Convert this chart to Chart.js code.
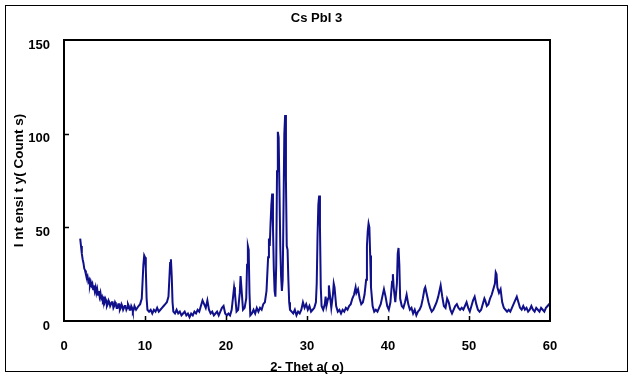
<!DOCTYPE html>
<html>
<head>
<meta charset="utf-8">
<title>CsPbI 3</title>
<script src="https://cdn.jsdelivr.net/npm/chart.js@4.4.0/dist/chart.umd.min.js"></script>
<style>
    body { margin: 0; background: #fff; }
    #wrap { width: 633px; height: 378px; }
</style>
</head>
<body>
<div id="wrap"><canvas id="xrdChart" width="633" height="378"></canvas></div>
<script>
// XRD pattern readings, [2-theta, counts]
const lowAngle = [
    [2.0, 44], [2.1, 40], [2.2, 36], [2.3, 33], [2.4, 31], [2.5, 28], [2.6, 27], [2.7, 25], [2.8, 23], [2.9, 24],
    [3.0, 21], [3.1, 22], [3.2, 19], [3.3, 21], [3.4, 19], [3.5, 20], [3.6, 17], [3.7, 19], [3.8, 16], [3.9, 18],
    [4.0, 15], [4.1, 17], [4.2, 14], [4.3, 16], [4.4, 13], [4.5, 15], [4.6, 12], [4.7, 13], [4.8, 11], [4.9, 12],
    [5.0, 10], [5.1, 12], [5.2, 11], [5.3, 8], [5.4, 9], [5.5, 11], [5.6, 10], [5.7, 8], [5.8, 8], [5.9, 10],
    [6.0, 10], [6.1, 7], [6.2, 8], [6.3, 10], [6.4, 9], [6.5, 7], [6.6, 7], [6.7, 9], [6.8, 9], [6.9, 6],
    [7.0, 7], [7.1, 9], [7.2, 8], [7.3, 6], [7.4, 6], [7.5, 8], [7.6, 8], [7.7, 6], [7.8, 7], [7.9, 9],
    [8.0, 8], [8.1, 6], [8.2, 6], [8.3, 8], [8.4, 7], [8.5, 5], [8.6, 6], [8.7, 8], [8.8, 7], [8.9, 6],
    [9.0, 6], [9.2, 8], [9.4, 9], [9.6, 12], [9.8, 30], [9.9, 35], [10.0, 34], [10.1, 28], [10.2, 12], [10.3, 6],
    [10.5, 5], [10.7, 6], [10.9, 4], [11.1, 6], [11.3, 5], [11.5, 7], [11.7, 5], [11.9, 6], [12.1, 7], [12.3, 8],
    [12.5, 9], [12.7, 10], [12.9, 13], [13.0, 22], [13.1, 31], [13.2, 33], [13.3, 24], [13.4, 10], [13.5, 5], [13.7, 4],
    [13.9, 6], [14.1, 4], [14.3, 5], [14.5, 3], [14.7, 4], [14.9, 5], [15.1, 3], [15.3, 4], [15.5, 2], [15.7, 4],
    [15.9, 3], [16.1, 5], [16.3, 4], [16.5, 6], [16.7, 5], [16.9, 8], [17.1, 11], [17.3, 9], [17.5, 7], [17.7, 11],
    [17.9, 6], [18.1, 4], [18.3, 5], [18.5, 3], [18.7, 4], [18.9, 5], [19.1, 3], [19.3, 5], [19.5, 7], [19.7, 8],
    [19.9, 4], [20.1, 3], [20.3, 4], [20.5, 3], [20.7, 6], [20.9, 14], [21.0, 18], [21.1, 15], [21.3, 5], [21.5, 6],
    [21.7, 15], [21.8, 24], [21.9, 18], [22.1, 6], [22.3, 7], [22.5, 12], [22.6, 30], [22.7, 40], [22.8, 38], [22.9, 15],
    [23.0, 3], [23.2, 4], [23.4, 6], [23.6, 4], [23.8, 7], [24.0, 5], [24.2, 7], [24.4, 6], [24.6, 9], [24.8, 10]
];

const midAngle = [
    [25.0, 16], [25.1, 25], [25.2, 34], [25.3, 44], [25.4, 40], [25.5, 52], [25.6, 62], [25.7, 68], [25.8, 50], [25.9, 28],
    [26.0, 16], [26.1, 13], [26.2, 30], [26.3, 80], [26.4, 101], [26.5, 98], [26.6, 70], [26.7, 40], [26.8, 24], [26.9, 16],
    [27.0, 22], [27.1, 60], [27.2, 100], [27.3, 110], [27.4, 75], [27.5, 40], [27.6, 38], [27.7, 22], [27.8, 10], [27.9, 6],
    [28.1, 5], [28.3, 4], [28.5, 6], [28.7, 3], [28.9, 5], [29.1, 4], [29.3, 6], [29.5, 10], [29.7, 7], [29.9, 9],
    [30.1, 6], [30.3, 8], [30.5, 5], [30.7, 6], [30.9, 7], [31.1, 10], [31.2, 20], [31.3, 45], [31.4, 62], [31.5, 67],
    [31.6, 50], [31.7, 18], [31.8, 8], [32.0, 6], [32.2, 9], [32.3, 13], [32.4, 8], [32.6, 12], [32.7, 19], [32.8, 15],
    [33.0, 7], [33.2, 14], [33.3, 20], [33.4, 18], [33.6, 8], [33.8, 5], [34.0, 6], [34.2, 4], [34.4, 6], [34.6, 5],
    [34.8, 7], [35.0, 6], [35.2, 8], [35.4, 9], [35.6, 12], [35.8, 14], [36.0, 18], [36.1, 15], [36.3, 17], [36.5, 12],
    [36.7, 9], [36.9, 10], [37.1, 14], [37.3, 22], [37.4, 40], [37.5, 48], [37.6, 52], [37.7, 50], [37.8, 35], [37.9, 18],
    [38.1, 8], [38.3, 5], [38.5, 6], [38.7, 5], [38.9, 7], [39.1, 9], [39.3, 13], [39.5, 17], [39.7, 13], [39.9, 8]
];

const highAngle = [
    [40.1, 6], [40.3, 10], [40.5, 21], [40.6, 25], [40.7, 18], [40.9, 10], [41.1, 20], [41.2, 36], [41.3, 39], [41.4, 30],
    [41.5, 12], [41.7, 8], [41.9, 7], [42.1, 10], [42.3, 14], [42.5, 9], [42.7, 6], [42.9, 7], [43.1, 4], [43.3, 6],
    [43.5, 3], [43.7, 5], [43.9, 6], [44.1, 8], [44.3, 12], [44.5, 17], [44.6, 18], [44.8, 14], [45.0, 10], [45.2, 7],
    [45.4, 5], [45.6, 6], [45.8, 8], [46.0, 10], [46.2, 13], [46.4, 17], [46.5, 19], [46.7, 13], [46.9, 8], [47.1, 7],
    [47.3, 12], [47.5, 10], [47.7, 6], [47.9, 4], [48.1, 6], [48.3, 8], [48.5, 9], [48.7, 7], [48.9, 6], [49.1, 7],
    [49.3, 6], [49.5, 8], [49.7, 10], [49.9, 7], [50.1, 5], [50.3, 8], [50.5, 11], [50.7, 13], [50.9, 9], [51.1, 6],
    [51.3, 5], [51.5, 6], [51.7, 9], [51.9, 12], [52.0, 11], [52.2, 8], [52.4, 9], [52.6, 12], [52.8, 14], [53.0, 17],
    [53.2, 20], [53.3, 26], [53.4, 25], [53.5, 18], [53.7, 15], [53.9, 17], [54.1, 10], [54.3, 7], [54.5, 6], [54.7, 5],
    [54.9, 6], [55.1, 5], [55.3, 7], [55.5, 9], [55.7, 11], [55.9, 13], [56.1, 10], [56.3, 7], [56.5, 6], [56.7, 8],
    [56.9, 6], [57.1, 7], [57.3, 5], [57.5, 6], [57.7, 8], [57.9, 6], [58.1, 5], [58.3, 7], [58.5, 6], [58.7, 5],
    [58.9, 7], [59.1, 6], [59.3, 5], [59.5, 7], [59.7, 8], [59.9, 9], [60.0, 8]
];

// Axis ticks
const xTicks = [0, 10, 20, 30, 40, 50, 60];
const yTicks = [0, 50, 100, 150];

const chartTitle = 'Cs PbI 3';
const xTitle = '2- Thet a( o)';
const yTitle = 'I nt ensi t y( Count s)';

const lineColor = '#10108a';
const fontFamily = "'Liberation Sans', Arial, sans-serif";

// Frame, title, plot border and inward tick marks
const framePlugin = {
    id: 'frame',
    afterDraw(chart) {
        const ctx = chart.ctx;
        const area = chart.chartArea;
        const xs = chart.scales.x;
        const ys = chart.scales.y;
        ctx.save();

        // outer box round the whole chart
        ctx.strokeStyle = '#000';
        ctx.lineWidth = 1;
        ctx.strokeRect(5.5, 5.5, 622, 366);

        // title, centred on the whole picture
        ctx.fillStyle = '#000';
        ctx.font = 'bold 13px ' + fontFamily;
        ctx.textAlign = 'center';
        ctx.textBaseline = 'middle';
        ctx.fillText(chartTitle, chart.width / 2, 18);

        // plot area border
        ctx.lineWidth = 2;
        ctx.strokeRect(area.left, area.top, area.right - area.left, area.bottom - area.top);

        // tick marks pointing into the plot
        ctx.lineWidth = 1.5;
        ctx.beginPath();
        xTicks.slice(1, -1).forEach(v => {
            const px = Math.round(xs.getPixelForValue(v)) + 0.5;
            ctx.moveTo(px, area.bottom);
            ctx.lineTo(px, area.bottom - 5);
        });
        yTicks.slice(1, -1).forEach(v => {
            const py = Math.round(ys.getPixelForValue(v)) + 0.5;
            ctx.moveTo(area.left, py);
            ctx.lineTo(area.left + 5, py);
        });
        ctx.stroke();
        ctx.restore();
    }
};

function toPoints(list) {
    return list.map(p => ({ x: p[0], y: p[1] }));
}

window.onload = function() {
    const ctx = document.getElementById('xrdChart').getContext('2d');
    const points = toPoints(lowAngle).concat(toPoints(midAngle), toPoints(highAngle));

    new Chart(ctx, {
        type: 'line',
        data: {
            datasets: [{
                label: 'CsPbI3',
                data: points,
                borderColor: lineColor,
                borderWidth: 2,
                pointRadius: 0,
                tension: 0,
                fill: false
            }]
        },
        options: {
            responsive: false,
            animation: false,
            devicePixelRatio: 1,
            layout: {
                padding: { left: 0, right: 83, top: 40, bottom: 0 }
            },
            plugins: {
                legend: { display: false },
                tooltip: { enabled: false },
                title: { display: false }
            },
            scales: {
                x: {
                    type: 'linear',
                    min: 0,
                    max: 60,
                    afterFit: scale => { scale.height = 57; },
                    afterBuildTicks: scale => { scale.ticks = xTicks.map(v => ({ value: v })); },
                    grid: { display: false, drawTicks: false },
                    border: { display: false },
                    ticks: {
                        padding: 18,
                        color: '#000',
                        maxRotation: 0,
                        font: { family: fontFamily, size: 13, weight: 'bold' }
                    },
                    title: {
                        display: true,
                        text: xTitle,
                        color: '#000',
                        font: { family: fontFamily, size: 13, weight: 'bold' },
                        padding: { top: 0, bottom: 3 }
                    }
                },
                y: {
                    min: 0,
                    max: 150,
                    afterFit: scale => { scale.width = 64; },
                    afterBuildTicks: scale => { scale.ticks = yTicks.map(v => ({ value: v })); },
                    grid: { display: false, drawTicks: false },
                    border: { display: false },
                    ticks: {
                        padding: 14,
                        labelOffset: 5,
                        color: '#000',
                        font: { family: fontFamily, size: 13, weight: 'bold' }
                    },
                    title: {
                        display: true,
                        text: yTitle,
                        color: '#000',
                        font: { family: fontFamily, size: 13.5, weight: 'bold' },
                        padding: { top: 11, bottom: 0 }
                    }
                }
            }
        },
        plugins: [framePlugin]
    });
};
</script>
</body>
</html>
